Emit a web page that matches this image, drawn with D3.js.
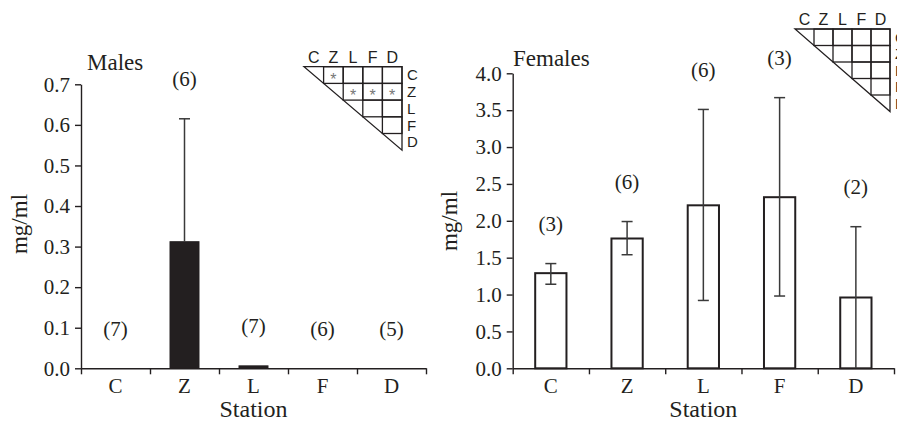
<!DOCTYPE html>
<html>
<head>
<meta charset="utf-8">
<script src="https://cdn.jsdelivr.net/npm/d3@7"></script>
<style>
body { margin: 0; background: #fff; }
svg text { font-family: "Liberation Serif", "Times New Roman", serif; fill: #231f20; }
svg .matrix text { font-family: "Liberation Sans", Arial, sans-serif; }
</style>
</head>
<body>
<div id="chart"></div>
<script>
// data
const stations = ["C", "Z", "L", "F", "D"]

const maleMean = [0, 0.312, 0.006, 0, 0]
const maleUpper = [0, 0.615, 0.006, 0, 0]
const maleLower = [0, 0.312, 0.006, 0, 0]
const maleN = ["(7)", "(6)", "(7)", "(6)", "(5)"]
const maleTicks = [0, 0.1, 0.2, 0.3, 0.4, 0.5, 0.6, 0.7]
const maleSig = [["C", "Z"], ["Z", "L"], ["Z", "F"], ["Z", "D"]]

const femaleMean = [1.29, 1.76, 2.21, 2.32, 0.96]
const femaleUpper = [1.42, 1.99, 3.51, 3.67, 1.92]
const femaleLower = [1.14, 1.54, 0.92, 0.98, 0]
const femaleN = ["(3)", "(6)", "(6)", "(3)", "(2)"]
const femaleTicks = [0, 0.5, 1, 1.5, 2, 2.5, 3, 3.5, 4]
const femaleSig = []

let width = 897,
    height = 423
let ink = "#231f20"
let serif = "'Liberation Serif', 'Times New Roman', serif"

let svg = d3.select("#chart")
    .append("svg")
    .attr("width", width)
    .attr("height", height)

function drawPanel(p) {
    let x = d3.scaleBand()
        .domain(stations)
        .range([p.left, p.right])

    let y = d3.scaleLinear()
        .domain([0, p.max])
        .range([p.bottom, p.top])

    let barW = x.bandwidth() * p.barFrac
    let cx = d => x(d) + x.bandwidth() / 2

    // y axis
    svg.append("g")
        .attr("transform", "translate(" + p.left + ",0)")
        .call(d3.axisLeft(y).tickValues(p.ticks).tickFormat(d3.format(".1f")).tickSize(6).tickSizeOuter(0).tickPadding(5))
        .attr("font-family", serif)
        .attr("font-size", 21)

    // x axis: ticks sit on the band edges
    let xEdge = d3.scaleLinear().domain([0, stations.length]).range([p.left, p.right])
    svg.append("g")
        .attr("transform", "translate(0," + p.bottom + ")")
        .call(d3.axisBottom(xEdge).tickValues(d3.range(stations.length + 1)).tickFormat("").tickSize(6).tickSizeOuter(0))

    svg.append("g")
        .attr("transform", "translate(0," + p.bottom + ")")
        .call(d3.axisBottom(x).tickSize(0).tickPadding(10))
        .attr("font-family", serif)
        .attr("font-size", 21)
        .call(g => g.select(".domain").remove())

    svg.selectAll(".domain, .tick line")
        .attr("stroke", ink)
        .attr("stroke-width", 1.4)

    // bars
    svg.append("g")
        .selectAll("rect")
        .data(stations.filter((d, i) => p.mean[i] > 0))
        .enter()
        .append("rect")
        .attr("x", d => cx(d) - barW / 2)
        .attr("y", d => y(p.mean[stations.indexOf(d)]))
        .attr("width", barW)
        .attr("height", d => p.bottom - y(p.mean[stations.indexOf(d)]))
        .attr("fill", p.fill)
        .attr("stroke", ink)
        .attr("stroke-width", p.fill == "#fff" ? 2 : 1)

    // error bars
    let err = svg.append("g")
        .attr("stroke", "#3a3a3a")
        .attr("stroke-width", 1.5)
    stations.forEach(function (d, i) {
        if (p.upper[i] <= p.mean[i]) return
        err.append("line")
            .attr("x1", cx(d)).attr("x2", cx(d))
            .attr("y1", y(p.lower[i])).attr("y2", y(p.upper[i]))
        err.append("line")
            .attr("x1", cx(d) - 5.5).attr("x2", cx(d) + 5.5)
            .attr("y1", y(p.upper[i])).attr("y2", y(p.upper[i]))
        if (p.lower[i] > 0 && p.lower[i] < p.mean[i]) {
            err.append("line")
                .attr("x1", cx(d) - 5.5).attr("x2", cx(d) + 5.5)
                .attr("y1", y(p.lower[i])).attr("y2", y(p.lower[i]))
        }
    })

    // sample sizes
    svg.append("g")
        .selectAll("text")
        .data(stations)
        .enter()
        .append("text")
        .attr("x", d => cx(d))
        .attr("y", (d, i) => y(p.upper[i]) - 40)
        .attr("dy", "0.35em")
        .attr("text-anchor", "middle")
        .style("font-size", "21px")
        .text((d, i) => p.n[i])

    // titles
    svg.append("text")
        .attr("x", p.titleX)
        .attr("y", p.titleY)
        .style("font-size", "23px")
        .text(p.title)

    svg.append("text")
        .attr("x", (p.left + p.right) / 2)
        .attr("y", 417)
        .attr("text-anchor", "middle")
        .style("font-size", "24px")
        .text("Station")

    svg.append("text")
        .attr("transform", "translate(" + p.ylabX + "," + p.ylabY + ") rotate(-90)")
        .attr("text-anchor", "middle")
        .style("font-size", "23px")
        .text("mg/ml")
}

function drawMatrix(m) {
    let col = d3.scaleBand().domain(stations).range([m.x, m.x + m.cw * stations.length])
    let row = d3.scaleBand().domain(stations).range([m.y, m.y + m.rh * stations.length])
    let x1 = col.range()[1],
        y1 = row.range()[1]

    let g = svg.append("g").attr("class", "matrix")

    g.append("path")
        .attr("d", "M" + m.x + "," + m.y + "L" + x1 + "," + m.y + "L" + x1 + "," + y1 + "Z")
        .attr("fill", "none")
        .attr("stroke", ink)
        .attr("stroke-width", 1.3)

    let cells = []
    stations.forEach((r, i) => stations.forEach((c, j) => { if (j > i) cells.push([r, c]) }))

    g.selectAll("rect")
        .data(cells)
        .enter()
        .append("rect")
        .attr("x", d => col(d[1]))
        .attr("y", d => row(d[0]))
        .attr("width", col.bandwidth())
        .attr("height", row.bandwidth())
        .attr("fill", "none")
        .attr("stroke", ink)
        .attr("stroke-width", 1.3)

    g.selectAll(".top")
        .data(stations)
        .enter()
        .append("text")
        .attr("x", d => col(d) + col.bandwidth() / 2)
        .attr("y", m.y - 4)
        .attr("text-anchor", "middle")
        .style("font-size", "16px")
        .text(d => d)

    g.selectAll(".side")
        .data(stations)
        .enter()
        .append("text")
        .attr("x", x1 + 5)
        .attr("y", d => row(d) + row.bandwidth() / 2)
        .attr("dy", "0.36em")
        .style("font-size", "15px")
        .text(d => d)

    g.selectAll(".sig")
        .data(m.sig)
        .enter()
        .append("text")
        .attr("x", d => col(d[1]) + col.bandwidth() / 2)
        .attr("y", d => row(d[0]) + row.bandwidth() / 2)
        .attr("dy", "0.6em")
        .attr("text-anchor", "middle")
        .style("font-size", "16px")
        .style("fill", "#777")
        .text("*")
}

drawPanel({
    left: 81, right: 426, top: 84.3, bottom: 368.3, max: 0.7,
    ticks: maleTicks, mean: maleMean, upper: maleUpper, lower: maleLower, n: maleN,
    fill: ink, barFrac: 0.42,
    title: "Males", titleX: 87, titleY: 70, ylabX: 27, ylabY: 224
})

drawPanel({
    left: 512.7, right: 894, top: 73.3, bottom: 368.3, max: 4,
    ticks: femaleTicks, mean: femaleMean, upper: femaleUpper, lower: femaleLower, n: femaleN,
    fill: "#fff", barFrac: 0.41,
    title: "Females", titleX: 513, titleY: 66, ylabX: 457, ylabY: 221
})

drawMatrix({ x: 304, y: 66.7, cw: 19.6, rh: 16.7, sig: maleSig })
drawMatrix({ x: 795, y: 29, cw: 19, rh: 16.5, sig: femaleSig })
</script>
</body>
</html>
